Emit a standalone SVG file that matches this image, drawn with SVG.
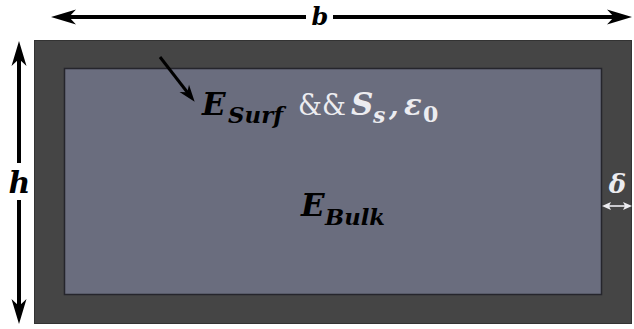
<svg xmlns="http://www.w3.org/2000/svg" width="634" height="329" viewBox="0 0 634 329">
<style>
.dim{stroke:#000;stroke-width:4;fill:none}
.lbl{font-family:"DejaVu Serif","Liberation Serif",serif;font-weight:bold;font-style:italic}
.blk{fill:#000}
.wht{fill:#ececf0}
</style>
<defs>
<marker id="bigHead" viewBox="-16 -8 27 16" refX="0" refY="0" markerWidth="27" markerHeight="16" markerUnits="userSpaceOnUse" orient="auto">
<path d="M10,0 L-15,-7.5 L-8,0 L-15,7.5 Z" fill="#000"/>
</marker>
<marker id="ptrHead" viewBox="-12 -7 20 14" refX="0" refY="0" markerWidth="20" markerHeight="14" markerUnits="userSpaceOnUse" orient="auto">
<path d="M6,0 L-11,-6 L-6,0 L-11,6 Z" fill="#000"/>
</marker>
<marker id="smallHead" viewBox="-8 -5 12 10" refX="0" refY="0" markerWidth="12" markerHeight="10" markerUnits="userSpaceOnUse" orient="auto">
<path d="M3,0 L-6,-4 L-4,0 L-6,4 Z" fill="#ececf0"/>
</marker>
</defs>
<g id="outer">
<rect x="34.5" y="40.5" width="597" height="283" fill="#454545" stroke="#333" stroke-width="1"/>
</g>
<g id="inner">
<rect x="64.5" y="68.5" width="537" height="226" fill="#6a6d7e" stroke="#25252c" stroke-width="1.5"/>
</g>
<g id="connectors">
<line class="dim" x1="306" y1="17" x2="61" y2="17" marker-end="url(#bigHead)"/>
<line class="dim" x1="333" y1="17" x2="622" y2="17" marker-end="url(#bigHead)"/>
<line class="dim" x1="19" y1="163" x2="19" y2="51" marker-end="url(#bigHead)"/>
<line class="dim" x1="19" y1="200" x2="19" y2="314" marker-end="url(#bigHead)"/>
<line stroke="#000" stroke-width="3" x1="160" y1="57" x2="191" y2="97" marker-end="url(#ptrHead)"/>
<line stroke="#ececf0" stroke-width="1.6" x1="617" y1="206" x2="605" y2="206" marker-end="url(#smallHead)"/>
<line stroke="#ececf0" stroke-width="1.6" x1="617" y1="206" x2="629" y2="206" marker-end="url(#smallHead)"/>
</g>
<g id="label-b">
<text class="lbl blk" x="320" y="25" font-size="24" text-anchor="middle">b</text>
</g>
<g id="label-h">
<text class="lbl blk" x="19.5" y="193" font-size="30" text-anchor="middle">h</text>
</g>
<g id="label-delta">
<text class="lbl wht" x="617.5" y="193" font-size="26" text-anchor="middle">δ</text>
</g>
<g id="label-surf">
<text class="lbl blk" x="202" y="115" font-size="31">E</text>
<text class="lbl blk" x="228" y="123" font-size="23" textLength="55" lengthAdjust="spacingAndGlyphs">Surf</text>
<text x="298" y="115" font-size="29" fill="#ececf0" font-family="DejaVu Serif,Liberation Serif,serif" textLength="48" lengthAdjust="spacingAndGlyphs">&amp;&amp;</text>
<text class="lbl wht" x="351" y="115" font-size="31">S</text>
<text class="lbl wht" x="373" y="123" font-size="22">s</text>
<text class="lbl wht" x="389" y="115" font-size="28">,</text>
<text class="lbl wht" x="404" y="115" font-size="29">ε</text>
<text x="423" y="122" font-size="22" fill="#ececf0" font-weight="bold" font-family="DejaVu Serif,Liberation Serif,serif">0</text>
</g>
<g id="label-bulk">
<text class="lbl blk" x="301" y="216" font-size="31">E</text>
<text class="lbl blk" x="325" y="225" font-size="23" textLength="60" lengthAdjust="spacingAndGlyphs">Bulk</text>
</g>
</svg>
